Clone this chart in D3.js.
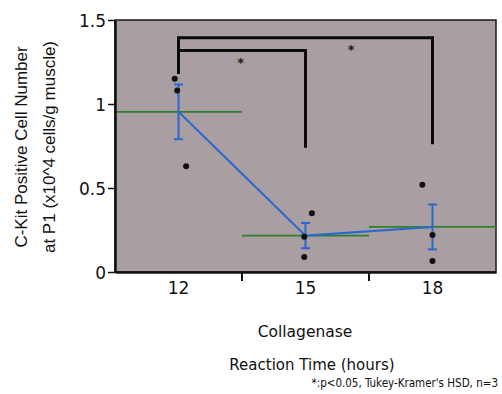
<!DOCTYPE html>
<html>
<head>
<meta charset="utf-8">
<script src="https://cdn.jsdelivr.net/npm/d3@7"></script>
<style>
  body { margin: 0; background: #fff; }
  svg { display: block; }
</style>
</head>
<body>
<div id="chart"></div>
<script>
var w = 502,
	h = 394;

// reaction time groups (hours)
var groups = ["12", "15", "18"];
// individual measurements per group (x10^4 cells/g muscle)
var values12 = [1.15, 1.08, 0.63];
var values15 = [0.35, 0.21, 0.09];
var values18 = [0.52, 0.22, 0.065];
// small horizontal jitter of each dot, as a fraction of the band
var jitter12 = [-0.03, -0.01, 0.06];
var jitter15 = [0.05, -0.01, -0.01];
var jitter18 = [-0.08, 0.0, 0.0];
// tukey-kramer significant pairs
var pairA = ["12", "12"];
var pairB = ["18", "15"];
var pairLevel = [1.395, 1.318];
var pairDrop = [0.76, 0.74];
var pairStar = [0.68, 0.49];
var yTicks = [0, 0.5, 1, 1.5];

var samples = [values12, values15, values18];
var jitters = [jitter12, jitter15, jitter18];

var margin = {left: 115, right: 6, top: 20, bottom: 122};

var x = d3.scaleBand()
	.domain(groups)
	.range([margin.left, w - margin.right])
	.paddingInner(0).paddingOuter(0);

var y = d3.scaleLinear()
	.domain([0, 1.5])
	.range([h - margin.bottom, margin.top]);

var stats = groups.map(function(g, i) {
	var v = samples[i];
	var m = d3.mean(v);
	var se = d3.deviation(v) / Math.sqrt(v.length);
	return {g: g, mean: m, se: se};
});

var svg = d3.select("#chart")
	.append("svg")
	.attr("width", w)
	.attr("height", h);

// plot background
svg.append("rect")
	.attr("x", x.range()[0])
	.attr("y", y(1.5))
	.attr("width", x.range()[1] - x.range()[0])
	.attr("height", y(0) - y(1.5))
	.attr("fill", "#a99ea1")
	.attr("stroke", "#1a1a1a")
	.attr("stroke-width", 1.5);

// green group mean lines across each band
svg.selectAll(".meanline")
	.data(stats)
	.enter()
	.append("line")
	.attr("class", "meanline")
	.attr("x1", function(d) { return x(d.g); })
	.attr("x2", function(d) { return x(d.g) + x.bandwidth(); })
	.attr("y1", function(d) { return y(d.mean); })
	.attr("y2", function(d) { return y(d.mean); })
	.attr("stroke", "#2f7f2c")
	.attr("stroke-width", 1.6);

// blue line connecting means
var line = d3.line()
	.x(function(d) { return x(d.g) + x.bandwidth() / 2; })
	.y(function(d) { return y(d.mean); });

svg.append("path")
	.datum(stats)
	.attr("d", line)
	.attr("fill", "none")
	.attr("stroke", "#2a68cc")
	.attr("stroke-width", 2);

// error bars (mean +- SE)
var eb = svg.selectAll(".errbar")
	.data(stats)
	.enter()
	.append("g")
	.attr("class", "errbar")
	.attr("stroke", "#2a68cc")
	.attr("stroke-width", 2);

eb.append("line")
	.attr("x1", function(d) { return x(d.g) + x.bandwidth() / 2; })
	.attr("x2", function(d) { return x(d.g) + x.bandwidth() / 2; })
	.attr("y1", function(d) { return y(d.mean + d.se); })
	.attr("y2", function(d) { return y(d.mean - d.se); });

[1, -1].forEach(function(s) {
	eb.append("line")
		.attr("x1", function(d) { return x(d.g) + x.bandwidth() / 2 - 4.5; })
		.attr("x2", function(d) { return x(d.g) + x.bandwidth() / 2 + 4.5; })
		.attr("y1", function(d) { return y(d.mean + s * d.se); })
		.attr("y2", function(d) { return y(d.mean + s * d.se); });
});

// individual points
var pts = [];
groups.forEach(function(g, i) {
	samples[i].forEach(function(v, j) {
		pts.push({g: g, v: v, j: jitters[i][j]});
	});
});

svg.selectAll(".dot")
	.data(pts)
	.enter()
	.append("circle")
	.attr("class", "dot")
	.attr("cx", function(d) { return x(d.g) + x.bandwidth() * (0.5 + d.j); })
	.attr("cy", function(d) { return y(d.v); })
	.attr("r", 3)
	.attr("fill", "#111");

// significance brackets
var cx = function(g) { return x(g) + x.bandwidth() / 2; };
pairA.forEach(function(a, i) {
	var b = pairB[i];
	svg.append("path")
		.attr("d", "M" + cx(a) + "," + y(pairLevel[i] - 0.14) +
			"V" + y(pairLevel[i]) +
			"H" + cx(b) +
			"V" + y(pairDrop[i]))
		.attr("fill", "none")
		.attr("stroke", "#0a0a0a")
		.attr("stroke-width", 3);
	svg.append("text")
		.attr("x", cx(a) + (cx(b) - cx(a)) * pairStar[i])
		.attr("y", y(pairLevel[i]) + 16)
		.attr("text-anchor", "middle")
		.attr("font-family", "DejaVu Sans, sans-serif")
		.attr("font-size", 13)
		.attr("font-weight", "bold")
		.attr("fill", "#2a1012")
		.text("*");
});

// y axis
var yAxis = d3.axisLeft(y)
	.tickValues(yTicks)
	.tickFormat(d3.format("~g"))
	.tickSize(7)
	.tickSizeOuter(0);

var gy = svg.append("g")
	.attr("transform", "translate(" + margin.left + ",0)")
	.call(yAxis);
gy.select(".domain").attr("stroke", "#111").attr("stroke-width", 2.5);
gy.selectAll(".tick line").attr("stroke", "#111").attr("stroke-width", 1.5);
gy.selectAll(".tick text")
	.attr("font-family", "DejaVu Sans, sans-serif")
	.attr("font-size", 17)
	.attr("fill", "#111")
	.attr("x", -9)
	.attr("dy", "0.36em");

// x axis: labels centred, tick marks only between groups
var xAxis = d3.axisBottom(x).tickSize(0).tickPadding(10);
var gx = svg.append("g")
	.attr("transform", "translate(0," + y(0) + ")")
	.call(xAxis);
gx.select(".domain").attr("stroke", "#111").attr("stroke-width", 2.5);
gx.selectAll(".tick text")
	.attr("font-family", "DejaVu Sans, sans-serif")
	.attr("font-size", 17)
	.attr("fill", "#111");

gx.selectAll(".sep")
	.data(groups.slice(1))
	.enter()
	.append("line")
	.attr("class", "sep")
	.attr("x1", function(d) { return x(d); })
	.attr("x2", function(d) { return x(d); })
	.attr("y1", 0)
	.attr("y2", 9)
	.attr("stroke", "#111")
	.attr("stroke-width", 2);

// axis titles
svg.append("text")
	.attr("transform", "translate(27,147) rotate(-90)")
	.attr("text-anchor", "middle")
	.attr("font-family", "Liberation Sans, Arial, sans-serif")
	.attr("font-size", 17)
	.attr("fill", "#111")
	.text("C-Kit Positive Cell Number");

svg.append("text")
	.attr("transform", "translate(55,147) rotate(-90)")
	.attr("text-anchor", "middle")
	.attr("font-family", "Liberation Sans, Arial, sans-serif")
	.attr("font-size", 17)
	.attr("fill", "#111")
	.text("at P1 (x10^4 cells/g muscle)");

svg.append("text")
	.attr("x", 305)
	.attr("y", 337)
	.attr("text-anchor", "middle")
	.attr("font-family", "DejaVu Sans, sans-serif")
	.attr("font-size", 15.5)
	.attr("fill", "#111")
	.text("Collagenase");

svg.append("text")
	.attr("x", 312)
	.attr("y", 370)
	.attr("text-anchor", "middle")
	.attr("font-family", "DejaVu Sans, sans-serif")
	.attr("font-size", 15)
	.attr("fill", "#111")
	.text("Reaction Time (hours)");

svg.append("text")
	.attr("x", 498)
	.attr("y", 387)
	.attr("text-anchor", "end")
	.attr("font-family", "DejaVu Sans Condensed, DejaVu Sans, sans-serif")
	.attr("font-size", 11.5)
	.attr("fill", "#111")
	.text("*:p<0.05, Tukey-Kramer's HSD, n=3");
</script>
</body>
</html>
